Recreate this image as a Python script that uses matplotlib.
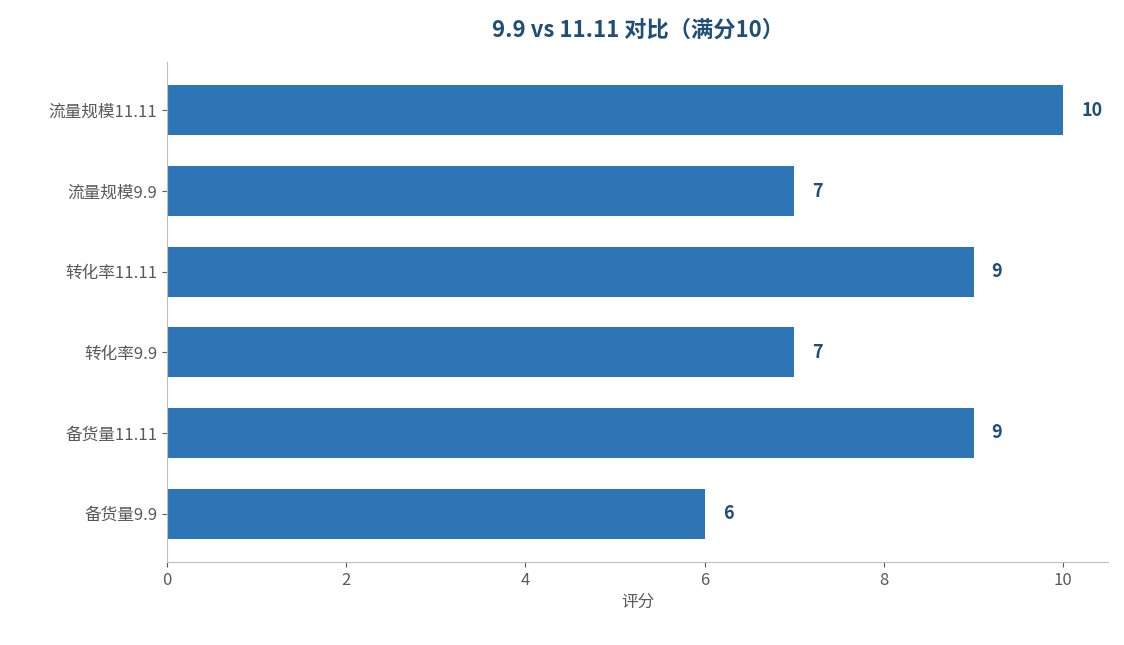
import matplotlib
matplotlib.use("Agg")
import matplotlib.pyplot as plt

plt.rcParams['font.family'] = ['Noto Sans CJK SC', 'DejaVu Sans']

categories = ["备货量9.9", "备货量11.11", "转化率9.9", "转化率11.11", "流量规模9.9", "流量规模11.11"]
scores = [6, 9, 7, 9, 7, 10]

fig = plt.figure(figsize=(11.24, 6.45), dpi=100)
ax = fig.add_axes([167/1124, 1 - 562/645, (1108-167)/1124, (562-62)/645])

ax.barh(range(len(categories)), scores, height=0.62, color="#2E75B6")
for i, v in enumerate(scores):
    ax.text(v + 0.2, i, str(v), va="center", ha="left", fontsize=13,
            fontweight="bold", color="#1F4E79")

ax.set_yticks(range(len(categories)))
ax.set_yticklabels(categories)
ax.set_xlim(0, 10.5)
ax.set_ylim(-0.6, 5.6)
ax.set_xticks([0, 2, 4, 6, 8, 10])
ax.tick_params(colors="#595959", labelsize=12)
ax.set_xlabel("评分", color="#595959", fontsize=12)
for s in ["top", "right"]:
    ax.spines[s].set_visible(False)
for s in ["left", "bottom"]:
    ax.spines[s].set_color("#BFBFBF")
fig.text((167+1108)/2/1124, 1 - 30/645, "9.9 vs 11.11 对比（满分10）", ha="center", va="center",
         fontsize=16, fontweight="bold", color="#1F4E79")

fig.savefig("out.png", dpi=100)
